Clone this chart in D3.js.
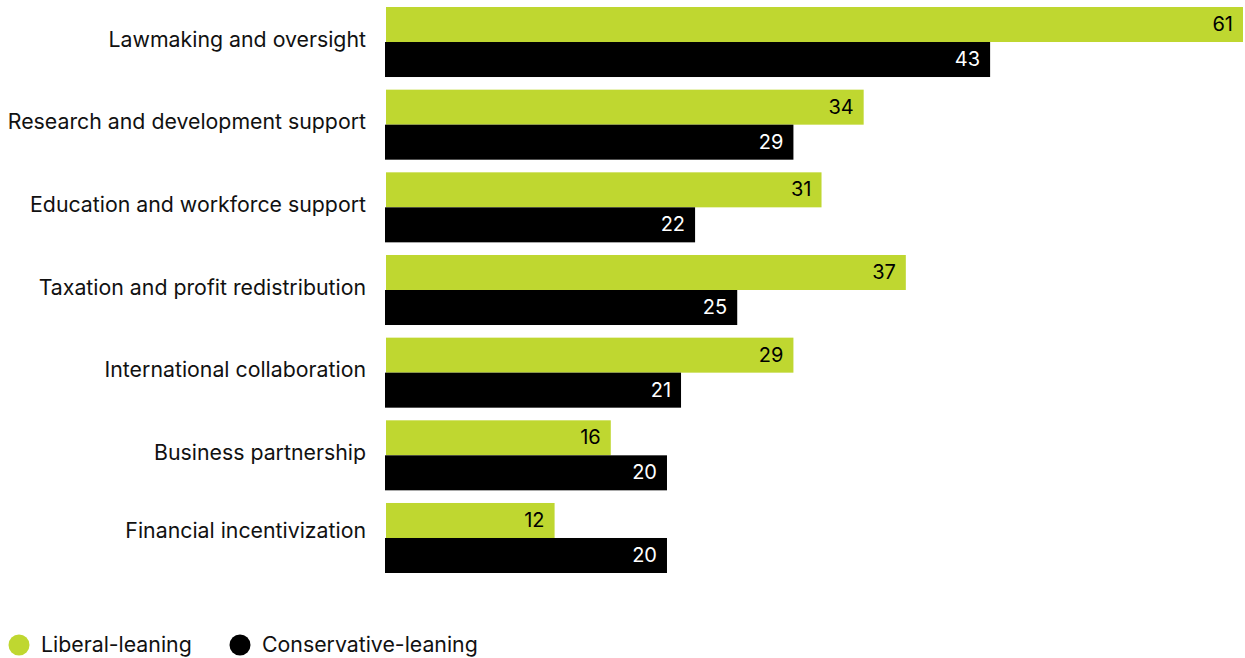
<!DOCTYPE html>
<html>
<head>
<meta charset="utf-8">
<script src="https://cdn.jsdelivr.net/npm/d3@7"></script>
<style>
  body { margin: 0; background: #fff; }
  text { font-family: Inter, "Noto Sans", sans-serif; }
</style>
</head>
<body>
<svg id="chart" width="1245" height="658"></svg>
<script>
// データ
var categories = [
  'Lawmaking and oversight',
  'Research and development support',
  'Education and workforce support',
  'Taxation and profit redistribution',
  'International collaboration',
  'Business partnership',
  'Financial incentivization'
];
var series = ['Liberal-leaning', 'Conservative-leaning'];
var liberal = [61, 34, 31, 37, 29, 16, 12];
var conservative = [43, 29, 22, 25, 21, 20, 20];

var colors = ['#bfd730', '#000000'];
var labelColors = ['#000000', '#ffffff'];

var svg = d3.select('#chart');

var x = d3.scaleLinear().domain([0, 61]).range([386, 1243]);
var y = d3.scaleBand().domain(categories).range([7, 573]).paddingInner(0.153).paddingOuter(0);
var ySub = d3.scaleBand().domain(series).range([0, y.bandwidth()]);

var rows = categories.map(function(c, i) {
  return { cat: c, i: i, values: [liberal[i], conservative[i]] };
});

var g = svg.selectAll('.row').data(rows).enter()
  .append('g')
  .attr('class', 'row')
  .attr('transform', function(d) { return 'translate(0,' + y(d.cat) + ')'; });

// カテゴリ名（最後の行だけ少し上に寄っている）
g.append('text')
  .attr('x', 366)
  .attr('y', function(d) { return ySub.bandwidth() - 1 - (d.i === categories.length - 1 ? 5 : 0); })
  .attr('text-anchor', 'end')
  .attr('dominant-baseline', 'middle')
  .attr('font-size', 21.3)
  .attr('fill', '#111')
  .text(function(d) { return d.cat; });

var bars = g.selectAll('.bar').data(function(d) {
  return d.values.map(function(v, j) { return { v: v, s: series[j], j: j }; });
}).enter();

bars.append('rect')
  .attr('x', function(d) { return x(0) - d.j; })
  .attr('y', function(d) { return ySub(d.s); })
  .attr('width', function(d) { return x(d.v) - x(0) + d.j; })
  .attr('height', ySub.bandwidth())
  .attr('fill', function(d) { return colors[d.j]; });

bars.append('text')
  .attr('x', function(d) { return x(d.v) - 10; })
  .attr('y', function(d) { return ySub(d.s) + ySub.bandwidth() / 2 + 1; })
  .attr('text-anchor', 'end')
  .attr('dominant-baseline', 'middle')
  .attr('font-size', 20)
  .attr('fill', function(d) { return labelColors[d.j]; })
  .text(function(d) { return d.v; });

// 凡例
var legendX = [19, 240];
var legend = svg.selectAll('.legend').data(series).enter()
  .append('g')
  .attr('class', 'legend')
  .attr('transform', function(d, i) { return 'translate(' + legendX[i] + ',645)'; });

legend.append('circle')
  .attr('r', 10.5)
  .attr('fill', function(d, i) { return colors[i]; });

legend.append('text')
  .attr('x', 22)
  .attr('y', 1)
  .attr('dominant-baseline', 'middle')
  .attr('font-size', 21.3)
  .attr('fill', '#111')
  .text(function(d) { return d; });
</script>
</body>
</html>
